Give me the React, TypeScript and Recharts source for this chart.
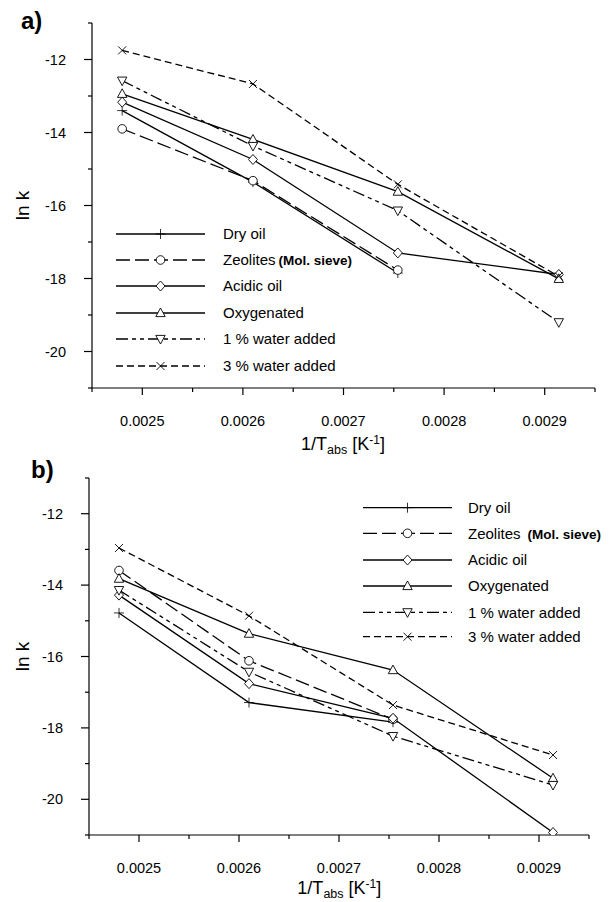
import React from 'react'
import { LineChart, Line, XAxis, YAxis, Legend } from 'recharts'

// 1/T of the four runs (130, 110, 90, 70 °C)
const invT = [0.00248, 0.00261, 0.002754, 0.002914]

// panel a)
const dryOilA = [-13.4, -15.36, -17.85, null]
const zeoliteA = [-13.9, -15.32, -17.77, null]
const acidicA = [-13.17, -14.74, -17.3, -17.89]
const oxygenA = [-12.94, -14.19, -15.62, -18.01]
const water1A = [-12.58, -14.37, -16.14, -19.2]
const water3A = [-11.75, -12.67, -15.42, -17.94]

// panel b)
const dryOilB = [-14.78, -17.29, -17.84, null]
const zeoliteB = [-13.59, -16.12, -17.76, null]
const acidicB = [-14.28, -16.76, -17.73, -20.93]
const oxygenB = [-13.82, -15.36, -16.38, -19.41]
const water1B = [-14.14, -16.43, -18.23, -19.6]
const water3B = [-12.96, -14.86, -17.36, -18.76]

const seriesKeys = ['dry', 'zeo', 'acid', 'oxy', 'w1', 'w3']
const seriesNames = ['Dry oil', 'Zeolites', 'Acidic oil', 'Oxygenated', '1 % water added', '3 % water added']
const seriesMarkers = ['plus', 'circle', 'diamond', 'triangle', 'triangleDown', 'cross']
const seriesDash = ['', '14 5', '', '', '12 4 4 4 4 4', '7 4']

const xTicks = [0.00245, 0.0025, 0.00255, 0.0026, 0.00265, 0.0027, 0.00275, 0.0028, 0.00285, 0.0029, 0.00295]
const xLabels = [0.0025, 0.0026, 0.0027, 0.0028, 0.0029]
const yTicks = [-21, -20, -19, -18, -17, -16, -15, -14, -13, -12, -11]
const yLabels = [-12, -14, -16, -18, -20]

const FONT = '"Liberation Sans", Arial, sans-serif'

const buildRows = (cols: (number | null)[][]) =>
  invT.map((x, i) => {
    const row: any = { x }
    seriesKeys.forEach((k, s) => { row[k] = cols[s][i] })
    return row
  })

const dataA = buildRows([dryOilA, zeoliteA, acidicA, oxygenA, water1A, water3A])
const dataB = buildRows([dryOilB, zeoliteB, acidicB, oxygenB, water1B, water3B])

const isIn = (v: number, list: number[]) => list.some(l => Math.abs(l - v) < 1e-9)

function Marker({ cx, cy, type }: { cx: number; cy: number; type: string }) {
  const st = { stroke: '#000', strokeWidth: 0.9, fill: '#fff' }
  switch (type) {
    case 'plus':
      return (
        <g stroke="#000" strokeWidth={0.8}>
          <line x1={cx - 5} x2={cx + 5} y1={cy} y2={cy} />
          <line x1={cx} x2={cx} y1={cy - 5} y2={cy + 5} />
        </g>
      )
    case 'circle':
      return <circle cx={cx} cy={cy} r={4.3} {...st} />
    case 'diamond':
      return <polygon points={`${cx},${cy - 5} ${cx + 4.5},${cy} ${cx},${cy + 5} ${cx - 4.5},${cy}`} {...st} />
    case 'triangle':
      return <polygon points={`${cx},${cy - 5} ${cx + 4.7},${cy + 3.6} ${cx - 4.7},${cy + 3.6}`} {...st} />
    case 'triangleDown':
      return <polygon points={`${cx},${cy + 5} ${cx + 4.7},${cy - 3.6} ${cx - 4.7},${cy - 3.6}`} {...st} />
    default:
      return (
        <g stroke="#000" strokeWidth={0.9}>
          <line x1={cx - 4} x2={cx + 4} y1={cy - 4} y2={cy + 4} />
          <line x1={cx - 4} x2={cx + 4} y1={cy + 4} y2={cy - 4} />
        </g>
      )
  }
}

const XTick = (props: any) => {
  const { x, y, payload } = props
  const major = isIn(payload.value, xLabels)
  return (
    <g>
      <line x1={x} x2={x} y1={y} y2={y + (major ? 7 : 4)} stroke="#000" strokeWidth={1.2} />
      {major && (
        <text x={x} y={y + 33} dy="0.35em" textAnchor="middle" fontSize={14.5} fontFamily={FONT} fill="#000">
          {payload.value.toFixed(4)}
        </text>
      )}
    </g>
  )
}

const YTick = (props: any) => {
  const { x, y, payload } = props
  const major = isIn(payload.value, yLabels)
  return (
    <g>
      <line x1={x - (major ? 8 : 4)} x2={x} y1={y} y2={y} stroke="#000" strokeWidth={1.2} />
      {major && (
        <text x={x - 26} y={y} dy="0.35em" textAnchor="end" fontSize={14.5} fontFamily={FONT} fill="#000">
          {payload.value}
        </text>
      )}
    </g>
  )
}

type LegendPos = { x0: number; x1: number; tx: number; rows: number[]; gap: number; w: number; h: number }

const LegendBox = ({ pos }: { pos: LegendPos }) => (
  <svg width={pos.w} height={pos.h} style={{ position: 'absolute', left: 0, top: 0 }}>
    {seriesNames.map((name, i) => {
      const y = pos.rows[i]
      return (
        <g key={name}>
          <line x1={pos.x0} x2={pos.x1} y1={y} y2={y} stroke="#000" strokeWidth={1.3}
            strokeDasharray={seriesDash[i] || undefined} />
          <Marker cx={(pos.x0 + pos.x1) / 2} cy={y} type={seriesMarkers[i]} />
          <text x={pos.tx} y={y} dy="0.35em" fontSize={15} fontFamily={FONT} fill="#000">
            {name}
            {i === 1 && (
              <tspan dx={pos.gap} fontWeight="bold" fontSize={13.5}>(Mol. sieve)</tspan>
            )}
          </text>
        </g>
      )
    })}
  </svg>
)

function Panel({ data, width, height, margin, legend }: any) {
  return (
    <LineChart width={width} height={height} data={data} margin={margin}>
      <XAxis dataKey="x" type="number" domain={[0.00245, 0.00295]} ticks={xTicks} interval={0}
        height={60} tickSize={0} tickMargin={0} tickLine={false} tick={<XTick />}
        tickFormatter={() => ''} axisLine={{ stroke: '#000', strokeWidth: 1.2 }} allowDataOverflow />
      <YAxis type="number" domain={[-21, -11]} ticks={yTicks} interval={0} width={60}
        tickSize={0} tickMargin={0} tickLine={false} tick={<YTick />}
        tickFormatter={() => ''} axisLine={{ stroke: '#000', strokeWidth: 1.2 }} allowDataOverflow />
      <Legend layout="vertical" align="center" verticalAlign="middle"
        wrapperStyle={{ left: 0, top: 0, width: width, height: height, pointerEvents: 'none' }}
        content={() => <LegendBox pos={legend} />} />
      {seriesKeys.map((k, i) => (
        <Line key={k} dataKey={k} stroke="#000" strokeWidth={1.3} isAnimationActive={false}
          strokeDasharray={seriesDash[i] || undefined}
          dot={(p: any) =>
            p.cy == null || p.value == null
              ? <g key={`${k}-${p.index}`} />
              : <Marker key={`${k}-${p.index}`} cx={p.cx} cy={p.cy} type={seriesMarkers[i]} />}
          activeDot={false} />
      ))}
    </LineChart>
  )
}

const XTitle = ({ cx, y }: { cx: number; y: number }) => (
  <text x={cx} y={y} textAnchor="middle" fontSize={18} fontFamily={FONT} fill="#000">
    1/T<tspan dy={4} fontSize={12.5}>abs</tspan><tspan dy={-4}> [K</tspan>
    <tspan dy={-6} fontSize={12}>-1</tspan><tspan dy={6}>]</tspan>
  </text>
)

export default function App() {
  return (
    <div style={{ position: 'absolute', left: 0, top: 0, width: 616, height: 902, background: '#fff' }}>
      <div style={{ position: 'absolute', left: 0, top: 0 }}>
        <Panel data={dataA} width={616} height={450} margin={{ top: 23, right: 21, bottom: 2, left: 32 }}
          legend={{ x0: 116, x1: 205, tx: 223, gap: 3, rows: [234, 260, 286, 313, 339, 366], w: 616, h: 450 }} />
      </div>
      <div style={{ position: 'absolute', left: 0, top: 450 }}>
        <Panel data={dataB} width={616} height={452} margin={{ top: 28, right: 27, bottom: 7, left: 29 }}
          legend={{ x0: 363, x1: 452, tx: 468, gap: 7, rows: [57.7, 83.3, 110, 136, 162.3, 186.7], w: 616, h: 452 }} />
      </div>
      <svg width={616} height={902} style={{ position: 'absolute', left: 0, top: 0, pointerEvents: 'none' }}>
        <text x={21} y={28.5} fontSize={24} fontWeight="bold" fontFamily={FONT}>a)</text>
        <text x={31} y={477.5} fontSize={24} fontWeight="bold" fontFamily={FONT}>b)</text>
        <text transform="translate(22.6,205.5) rotate(-90)" textAnchor="middle" dy="0.35em"
          fontSize={19} fontFamily={FONT}>ln k</text>
        <text transform="translate(22,656.5) rotate(-90)" textAnchor="middle" dy="0.35em"
          fontSize={19} fontFamily={FONT}>ln k</text>
        <XTitle cx={343} y={449.5} />
        <XTitle cx={339.3} y={894} />
      </svg>
    </div>
  )
}
